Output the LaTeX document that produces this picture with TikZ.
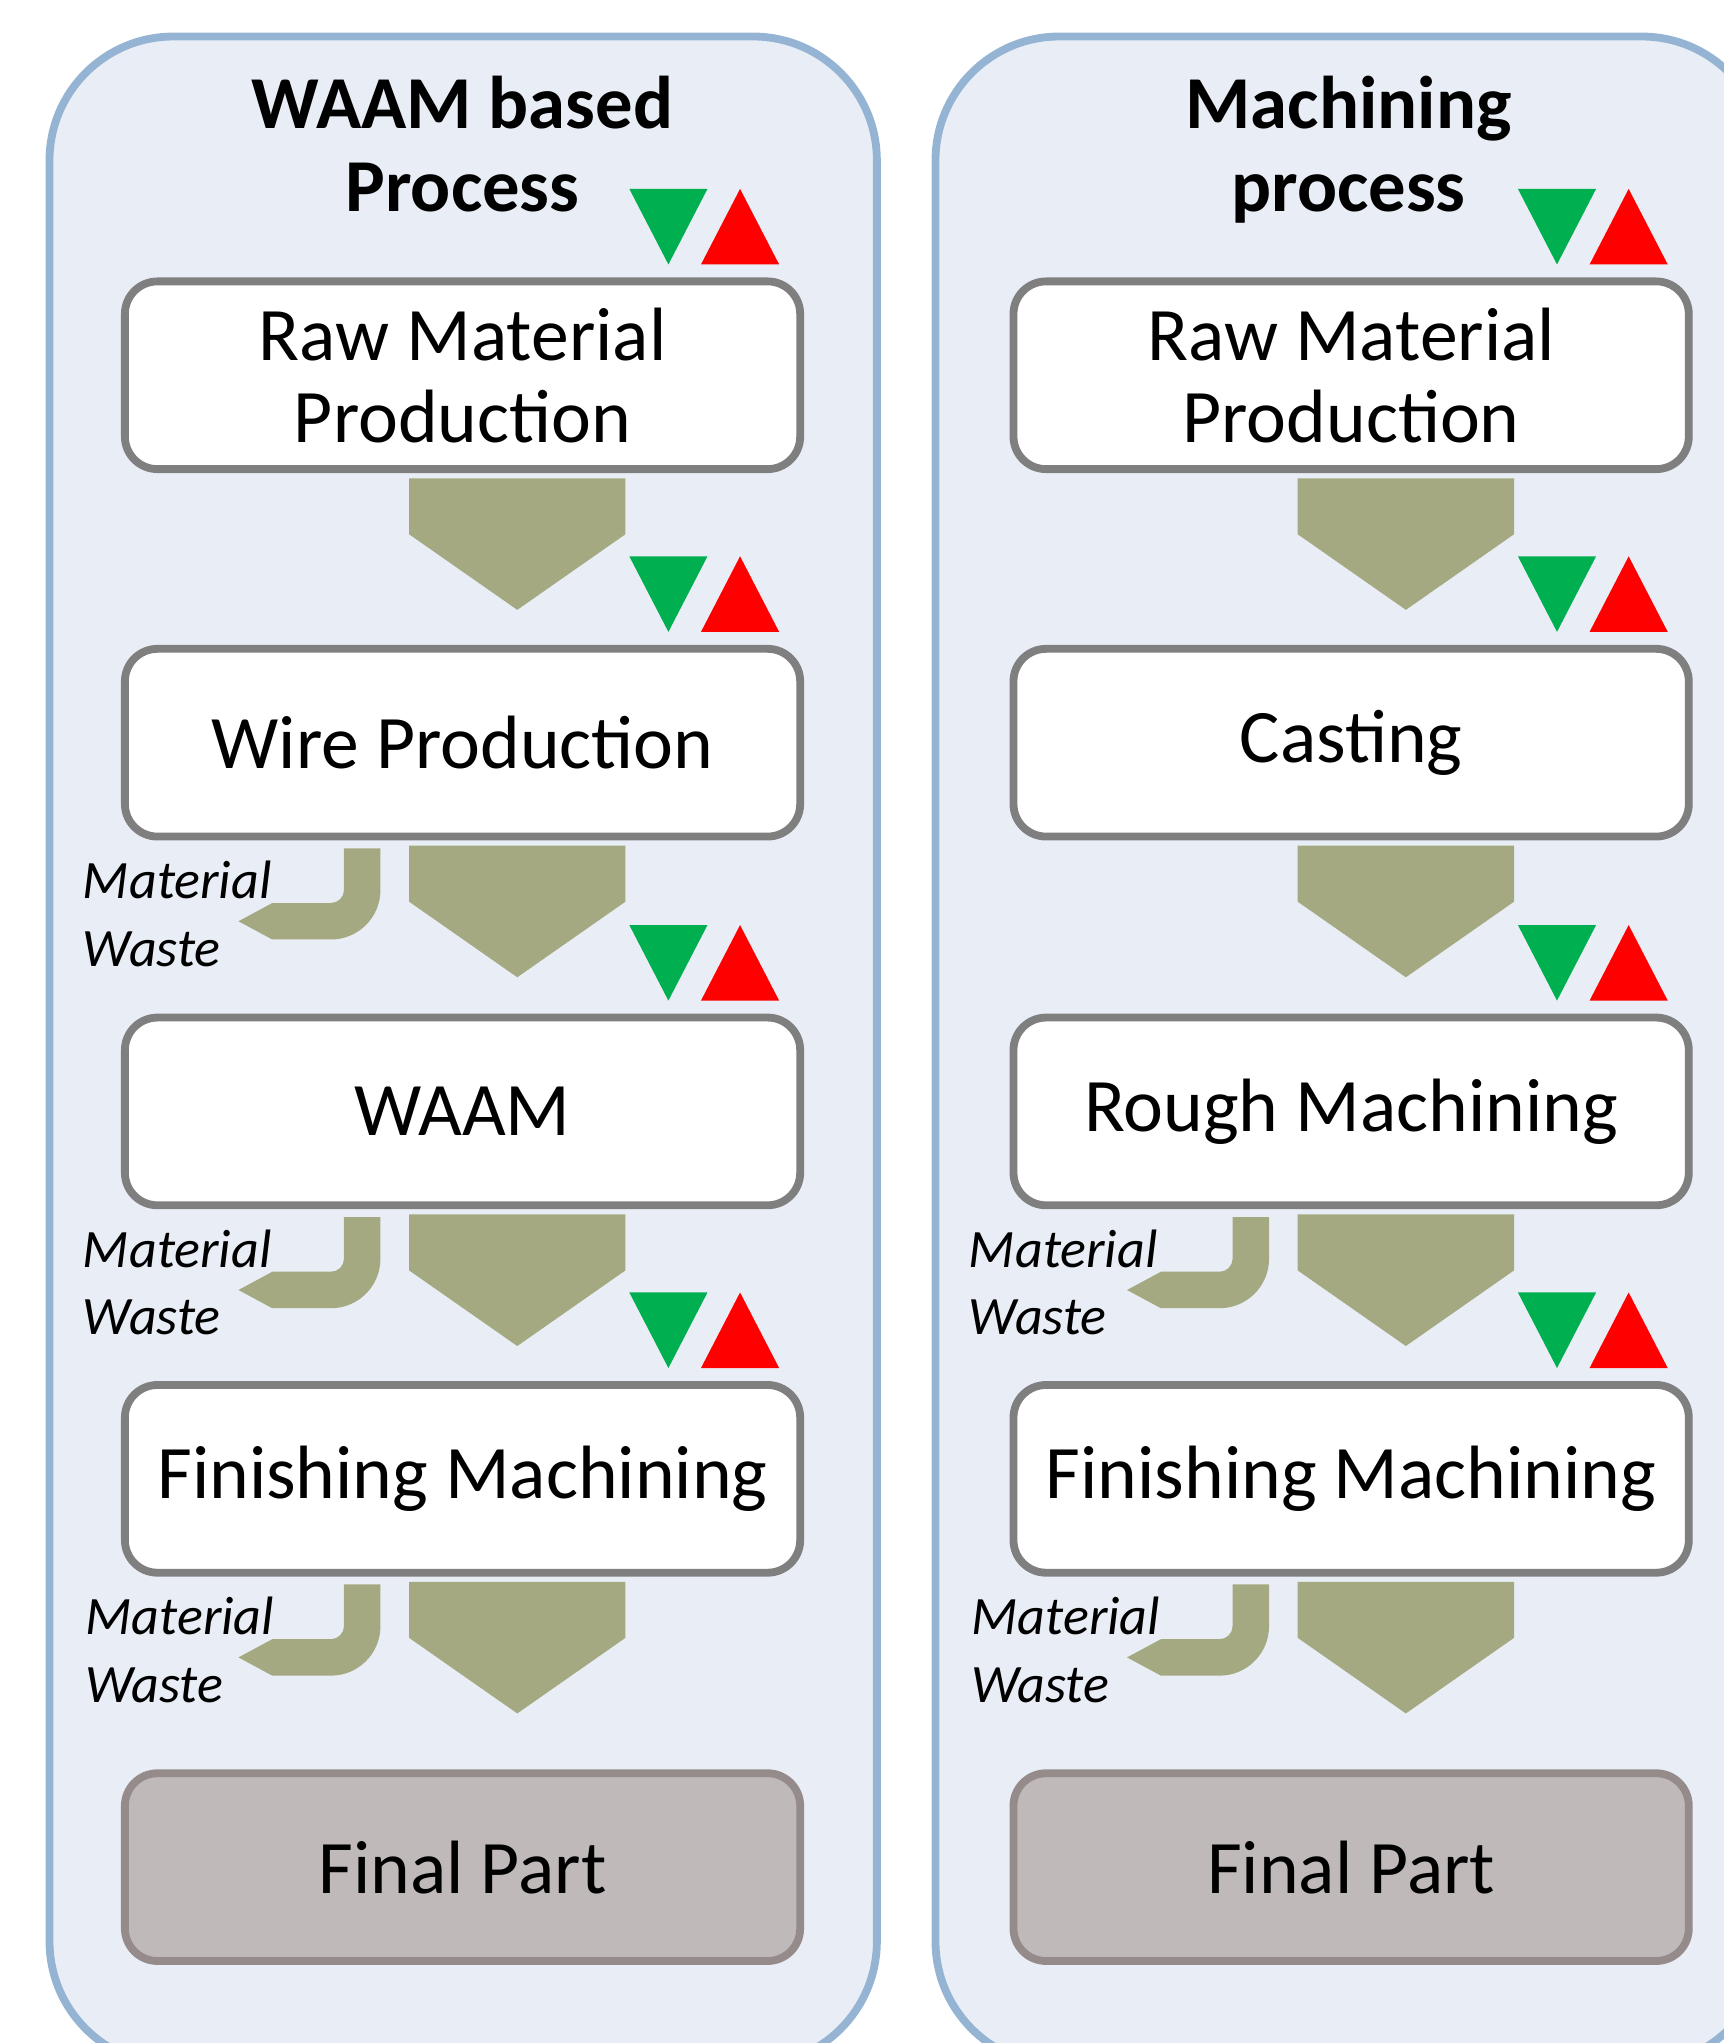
\documentclass[tikz,border=0pt]{standalone}
\usepackage{fontspec}
\setmainfont{Carlito}

\definecolor{panelfill}{HTML}{E9EEF6}
\definecolor{panelline}{HTML}{95B4D3}
\definecolor{boxline}{HTML}{7F7F7F}
\definecolor{finalfill}{HTML}{BFB9B9}
\definecolor{finalline}{HTML}{958B8B}
\definecolor{flow}{HTML}{A4A981}
\definecolor{markgreen}{HTML}{00B050}
\definecolor{markred}{HTML}{FF0000}

\tikzset{
  panel/.style={fill=panelfill, draw=panelline, line width=0.06cm, rounded corners=0.95cm},
  stepbox/.style={draw=boxline, fill=white, line width=0.06cm, rounded corners=0.25cm,
    minimum width=5.18cm, minimum height=1.44cm, align=center, inner sep=0pt,
    font=\fontsize{16.5}{18}\selectfont},
  finalbox/.style={stepbox, fill=finalfill, draw=finalline},
  paneltitle/.style={align=center, inner sep=0pt, font=\fontsize{16.3}{18}\selectfont\bfseries},
  wastelabel/.style={align=left, inner sep=0pt, anchor=north west,
    font=\fontsize{11.8}{14.8}\selectfont\itshape},
}

% block arrow leading down from the bottom of a step box
\newcommand\flowdown[1]{%
  \fill[flow, shift={(#1)}] (-41,4) -- (125,4) -- (125,47) -- (42,105) -- (-41,47) -- cycle;}
% bent arrow carrying material waste off to the left
\newcommand\wasteout[1]{%
  \fill[flow, shift={(#1)}] (-91,6) -- (-63,6) -- (-63,38)
    .. controls (-63,59) and (-80,76) .. (-101,76) -- (-146,76) -- (-172,62)
    -- (-146,48) -- (-101,48) .. controls (-95.5,48) and (-91,43.5) .. (-91,38) -- cycle;}
% green down / red up markers above a step box
\newcommand\trendmarks[1]{%
  \fill[markgreen, shift={(#1)}] (128,-68) -- (188,-68) -- (158,-10) -- cycle;
  \fill[markred, shift={(#1)}] (183,-10) -- (243,-10) -- (213,-68) -- cycle;}

\begin{document}
\begin{tikzpicture}[x=0.01cm, y=-0.01cm]
  \useasboundingbox (0,0) rectangle (1323,1568);
  \clip (0,0) rectangle (1323,1568);

  % the two process columns
  \draw[panel] (38,28) rectangle (673,1585);
  \draw[panel] (718,28) rectangle (1355,1585);

  \node[paneltitle, anchor=north] (ltitle) at (355,58) {WAAM based\\Process};
  \node[paneltitle, anchor=north] (rtitle) at (1035,58) {Machining\\process};

  % WAAM based process
  \node[stepbox] (l1) at (355,288) {Raw Material\\Production};
  \node[stepbox] (l2) at (355,570) {Wire Production};
  \node[stepbox] (l3) at (355,853) {WAAM};
  \node[stepbox] (l4) at (355,1135) {Finishing Machining};
  \node[finalbox] (l5) at (355,1433) {Final Part};

  % machining process
  \node[stepbox] (r1) at (1037,288) {Raw Material\\Production};
  \node[stepbox] (r2) at (1037,570) {Casting};
  \node[stepbox] (r3) at (1037,853) {Rough Machining};
  \node[stepbox] (r4) at (1037,1135) {Finishing Machining};
  \node[finalbox] (r5) at (1037,1433) {Final Part};

  \foreach \n in {l1,l2,l3,l4,r1,r2,r3,r4} {
    \flowdown{\n.south}
    \trendmarks{\n.north}
  }
  \foreach \n in {l2,l3,l4,r3,r4} {
    \wasteout{\n.south}
  }

  \node[wastelabel] (lw2) at (63,660) {Material\\Waste};
  \node[wastelabel] (lw3) at (63,943) {Material\\Waste};
  \node[wastelabel] (lw4) at (65,1225) {Material\\Waste};
  \node[wastelabel] (rw3) at (743,943) {Material\\Waste};
  \node[wastelabel] (rw4) at (745,1225) {Material\\Waste};
\end{tikzpicture}
\end{document}
